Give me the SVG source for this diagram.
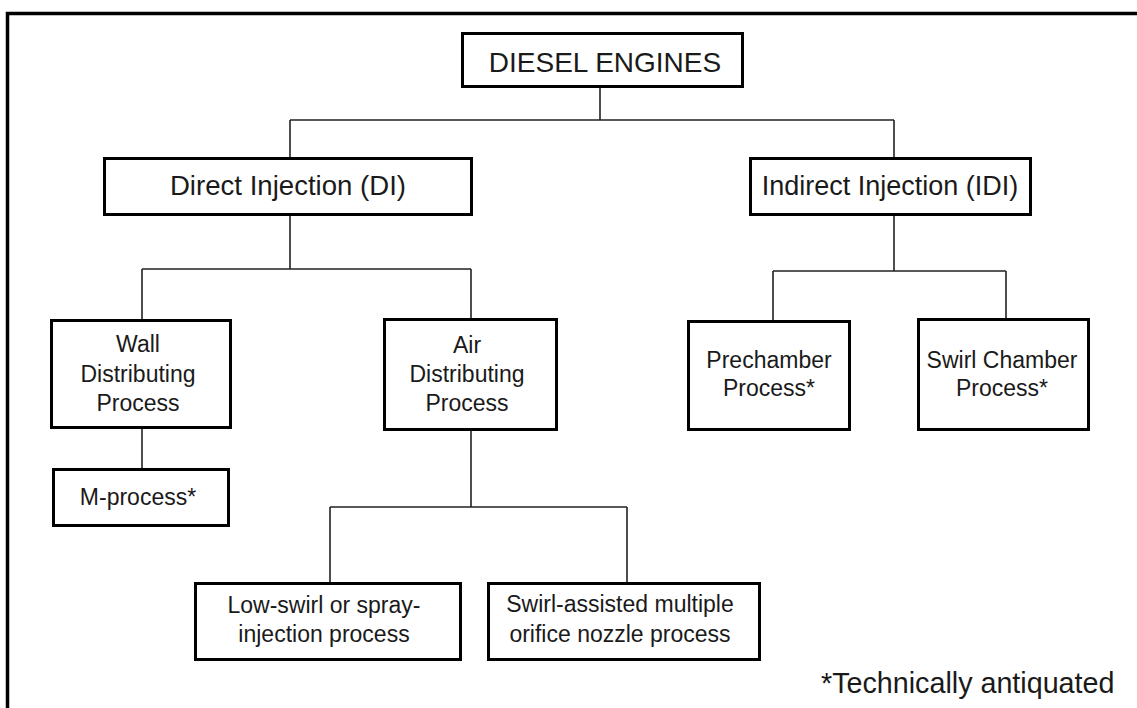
<svg xmlns="http://www.w3.org/2000/svg" width="1137" height="708" viewBox="0 0 1137 708">
<style>
.box{fill:#fff;stroke:#000;stroke-width:3}
.t{font-family:"Liberation Sans",Arial,sans-serif;fill:#1a1a1a;text-anchor:middle}
.big{font-size:27px}
.sm{font-size:23px}
#connectors path{fill:none;stroke:#222;stroke-width:1.6}
</style>
<rect x="0" y="0" width="1137" height="708" fill="#fff"/>
<rect x="7.5" y="13.5" width="1140" height="710" fill="none" stroke="#000" stroke-width="3.5"/>
<g id="connectors">
<path d="M600 88V120M290 120H894M290 120V157M894 120V157"/>
<path d="M290 216V269M142 269H471M142 269V319M471 269V318"/>
<path d="M142 429V468"/>
<path d="M471 431V507M330 507H627M330 507V582M627 507V582"/>
<path d="M894 216V271M773 271H1006M773 271V320M1006 271V318"/>
</g>
<g id="diesel">
<rect class="box" x="462.5" y="33.5" width="280" height="53"/>
<text class="t" x="605" y="72" font-size="28">DIESEL ENGINES</text>
</g>
<g id="di">
<rect class="box" x="104.5" y="158.5" width="367" height="56"/>
<text class="t" x="288" y="195" font-size="27.6">Direct Injection (DI)</text>
</g>
<g id="idi">
<rect class="box" x="750.5" y="158.5" width="280" height="56"/>
<text class="t big" x="890" y="195">Indirect Injection (IDI)</text>
</g>
<g id="wall">
<rect class="box" x="51.5" y="320.5" width="179" height="107"/>
<text class="t sm" x="138" y="352">Wall</text>
<text class="t sm" x="138" y="382">Distributing</text>
<text class="t sm" x="138" y="411">Process</text>
</g>
<g id="mprocess">
<rect class="box" x="53.5" y="469.5" width="175" height="56"/>
<text class="t sm" x="138" y="505">M-process*</text>
</g>
<g id="air">
<rect class="box" x="384.5" y="319.5" width="172" height="110"/>
<text class="t sm" x="467" y="353">Air</text>
<text class="t sm" x="467" y="382">Distributing</text>
<text class="t sm" x="467" y="411">Process</text>
</g>
<g id="prechamber">
<rect class="box" x="688.5" y="321.5" width="161" height="108"/>
<text class="t sm" x="769" y="368">Prechamber</text>
<text class="t sm" x="769" y="396">Process*</text>
</g>
<g id="swirlchamber">
<rect class="box" x="918.5" y="319.5" width="170" height="110"/>
<text class="t sm" x="1002" y="368">Swirl Chamber</text>
<text class="t sm" x="1002" y="396">Process*</text>
</g>
<g id="lowswirl">
<rect class="box" x="195.5" y="583.5" width="265" height="76"/>
<text class="t sm" x="324" y="613">Low-swirl or spray-</text>
<text class="t sm" x="324" y="642">injection process</text>
</g>
<g id="swirlassisted">
<rect class="box" x="488.5" y="583.5" width="271" height="76"/>
<text class="t sm" x="620" y="612">Swirl-assisted multiple</text>
<text class="t sm" x="620" y="642">orifice nozzle process</text>
</g>
<text class="t" x="821" y="693" font-size="28.7" style="text-anchor:start">*Technically antiquated</text>
</svg>
